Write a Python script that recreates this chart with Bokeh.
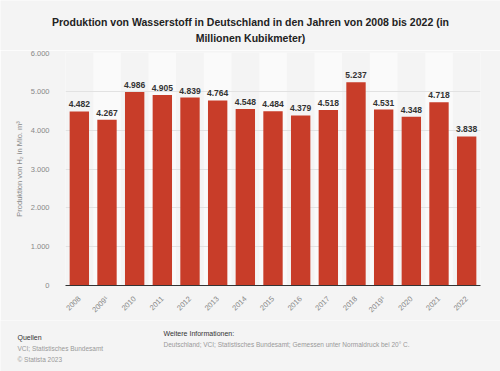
import math
from bokeh.plotting import figure
from bokeh.layouts import column
from bokeh.models import FactorRange, Range1d, FixedTicker
from bokeh.core.properties import value
from bokeh.embed import file_html
from bokeh.resources import INLINE

# ---- data ----
years = ["2008", "2009¹", "2010", "2011", "2012", "2013", "2014", "2015",
         "2016", "2017", "2018", "2019¹", "2020", "2021", "2022"]
production = [4482, 4267, 4986, 4905, 4839, 4764, 4548, 4484,
              4379, 4518, 5237, 4531, 4348, 4718, 3838]
y_ticks = [0, 1000, 2000, 3000, 4000, 5000, 6000]
y_tick_labels = ["0", "1.000", "2.000", "3.000", "4.000", "5.000", "6.000"]
y_max = 6000

title_lines = ["Produktion von Wasserstoff in Deutschland in den Jahren von 2008 bis 2022 (in",
               "Millionen Kubikmeter)"]
y_label = "Produktion von H₂ in Mio. m³"
source_head = "Quellen"
source_lines = ["VCI; Statistisches Bundesamt", "© Statista 2023"]
info_head = "Weitere Informationen:"
info_line = "Deutschland; VCI; Statistisches Bundesamt; Gemessen unter Normaldruck bei 20° C."

def de_fmt(v):
    return f"{v:,}".replace(",", ".")

value_labels = [de_fmt(v) for v in production]

BG = "#f4f4f4"
BAR = "#c83d29"
FONT = "Liberation Sans"
W = 500


def blank(height, y0, y1):
    f = figure(width=W, height=height, x_range=Range1d(0, W), y_range=Range1d(y1, y0),
               output_backend="svg", toolbar_location=None, x_axis_type=None,
               y_axis_type=None, background_fill_color=BG, border_fill_color=BG,
               outline_line_color=None, min_border=0, frame_align=False)
    f.grid.grid_line_color = None
    return f


# ---- title ----
t = blank(50, 0, 50)
t.text(x=[250, 250], y=[21, 37], text=title_lines, text_align="center",
       text_baseline="alphabetic", text_font=value(FONT), text_font_size="10.5px",
       text_font_style="bold", text_color="#222222")

# ---- main chart ----
p = figure(width=W, height=270, x_range=FactorRange(*years),
           y_range=Range1d(0, y_max), output_backend="svg",
           toolbar_location=None, background_fill_color=BG,
           border_fill_color=BG, outline_line_color=None,
           min_border_left=65, min_border_right=20,
           min_border_top=2, min_border_bottom=32, frame_align=False)

band_x = [y for i, y in enumerate(years) if i % 2 == 1]
p.vbar(x=band_x, top=[y_max] * len(band_x), bottom=0, width=1.0,
       color="#fafafa", line_color=None, level="underlay")

p.vbar(x=years, top=production, width=0.7, color=BAR, line_color=None)
p.text(x=years, y=production, text=value_labels, text_align="center",
       text_baseline="bottom", y_offset=-4, text_font=value(FONT),
       text_font_size="8.5px", text_font_style="bold", text_color="#333333")

p.xgrid.grid_line_color = None
p.ygrid.grid_line_color = "#e2e2e2"
p.ygrid.level = "underlay"
p.yaxis.ticker = FixedTicker(ticks=y_ticks)
p.yaxis.major_label_overrides = dict(zip(y_ticks, y_tick_labels))
p.yaxis.axis_line_color = None
p.yaxis.major_tick_line_color = None
p.yaxis.minor_tick_line_color = None
p.yaxis.major_label_standoff = 10
p.yaxis.major_label_text_font = FONT
p.yaxis.major_label_text_font_size = "7.5px"
p.yaxis.major_label_text_color = "#888888"
p.yaxis.axis_label = y_label
p.yaxis.axis_label_text_font = FONT
p.yaxis.axis_label_text_font_size = "7.5px"
p.yaxis.axis_label_text_font_style = "normal"
p.yaxis.axis_label_text_color = "#888888"
p.yaxis.axis_label_standoff = 4

p.xaxis.axis_line_color = "#333333"
p.xaxis.major_tick_line_color = None
p.xaxis.minor_tick_line_color = None
p.xaxis.major_label_orientation = math.pi / 4
p.xaxis.major_label_text_font = FONT
p.xaxis.major_label_text_font_size = "7.5px"
p.xaxis.major_label_text_color = "#888888"
p.xaxis.major_label_standoff = 6

# ---- footer ----
f = blank(51, 320, 371)
f.text(x=[17], y=[337], text=[source_head], text_font=value(FONT),
       text_font_size="7px", text_color="#333333", text_baseline="alphabetic")
f.text(x=[17, 17], y=[348, 359], text=source_lines, text_font=value(FONT),
       text_font_size="6.5px", text_color="#999999", text_baseline="alphabetic")
f.text(x=[163], y=[333], text=[info_head], text_font=value(FONT),
       text_font_size="7px", text_color="#333333", text_baseline="alphabetic")
f.text(x=[163], y=[344], text=[info_line], text_font=value(FONT),
       text_font_size="6.5px", text_color="#999999", text_baseline="alphabetic")

layout = column(t, p, f, spacing=0)
open("out.html", "w").write(file_html(layout, INLINE))
